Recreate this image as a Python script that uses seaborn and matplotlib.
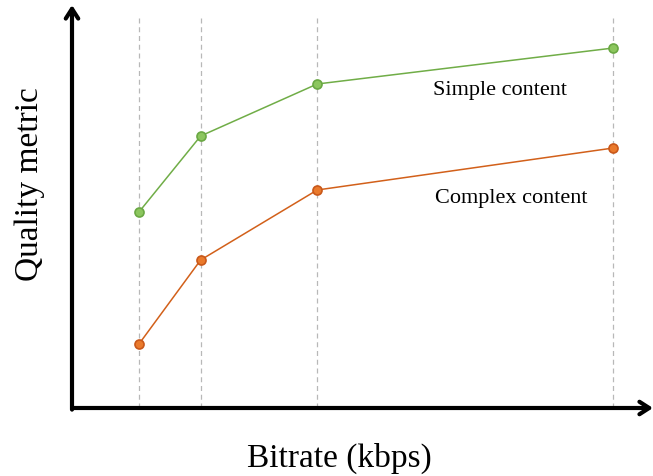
import seaborn as sb
import pandas as pd
import matplotlib.pyplot as plt

# bitrate points (kbps) and quality scores
bitrate = [500, 960, 1830, 4040]
simple_quality = [49, 68, 81, 90]
complex_quality = [16, 37, 54.5, 65]

rows = []
for b, q in zip(bitrate, simple_quality):
    rows.append({"bitrate": b, "quality": q, "content": "Simple content"})
for b, q in zip(bitrate, complex_quality):
    rows.append({"bitrate": b, "quality": q, "content": "Complex content"})
mydata = pd.DataFrame(rows)

sb.set_style("white")
plt.rcParams["font.family"] = ["Liberation Serif", "DejaVu Serif"]
plt.rcParams["text.color"] = "black"
plt.rcParams["axes.labelcolor"] = "black"

fig = plt.figure(figsize=(6.53, 4.76), dpi=100)
ax = fig.add_axes([72/653, 68/476, 581/653, 403/476])

# vertical guides at each bitrate
ax.vlines(bitrate, 0, 97.5, colors="#b8b8b8", linestyles=(0, (4, 3)), lw=0.9, zorder=1)

palette = {"Simple content": "#70AD47", "Complex content": "#D2601A"}
sb.lineplot(x="bitrate", y="quality", hue="content", data=mydata, palette=palette,
            lw=1.1, legend=False, ax=ax, zorder=3)
# markers with lighter fill
for name, col, fill in [("Simple content", "#6aa843", "#8cc65e"),
                        ("Complex content", "#c9581a", "#ea7a2c")]:
    sub = mydata[mydata["content"] == name]
    ax.plot(sub["bitrate"], sub["quality"], "o", ms=6.5, mfc=fill, mec=col, mew=1.2, zorder=4)

ax.set_xlim(0, 4336)
ax.set_ylim(0, 100.75)
ax.set_xticks([])
ax.set_yticks([])
for s in ax.spines.values():
    s.set_visible(False)

# axes drawn as arrows
arrow = dict(arrowstyle="->,head_length=0.7,head_width=0.45", lw=3, color="black",
             shrinkA=0, shrinkB=0)
ax.annotate("", xy=(1.0, 0), xytext=(0, 0), xycoords="axes fraction",
            arrowprops=arrow, annotation_clip=False)
ax.annotate("", xy=(0, 1.0), xytext=(0, -0.004), xycoords="axes fraction",
            arrowprops=arrow, annotation_clip=False)

ax.text(3194, 79.3, "Simple content", fontsize=16, ha="center", va="center")
ax.text(3276, 52.5, "Complex content", fontsize=16, ha="center", va="center")

ax.set_xlabel("Bitrate (kbps)", fontsize=24)
ax.set_ylabel("Quality metric", fontsize=24)
ax.xaxis.set_label_coords(0.461, -0.124)
ax.yaxis.set_label_coords(-0.072, 0.556)
ax.xaxis.label.set_va("center")
ax.yaxis.label.set_va("center")

plt.savefig("out.png", dpi=100)
